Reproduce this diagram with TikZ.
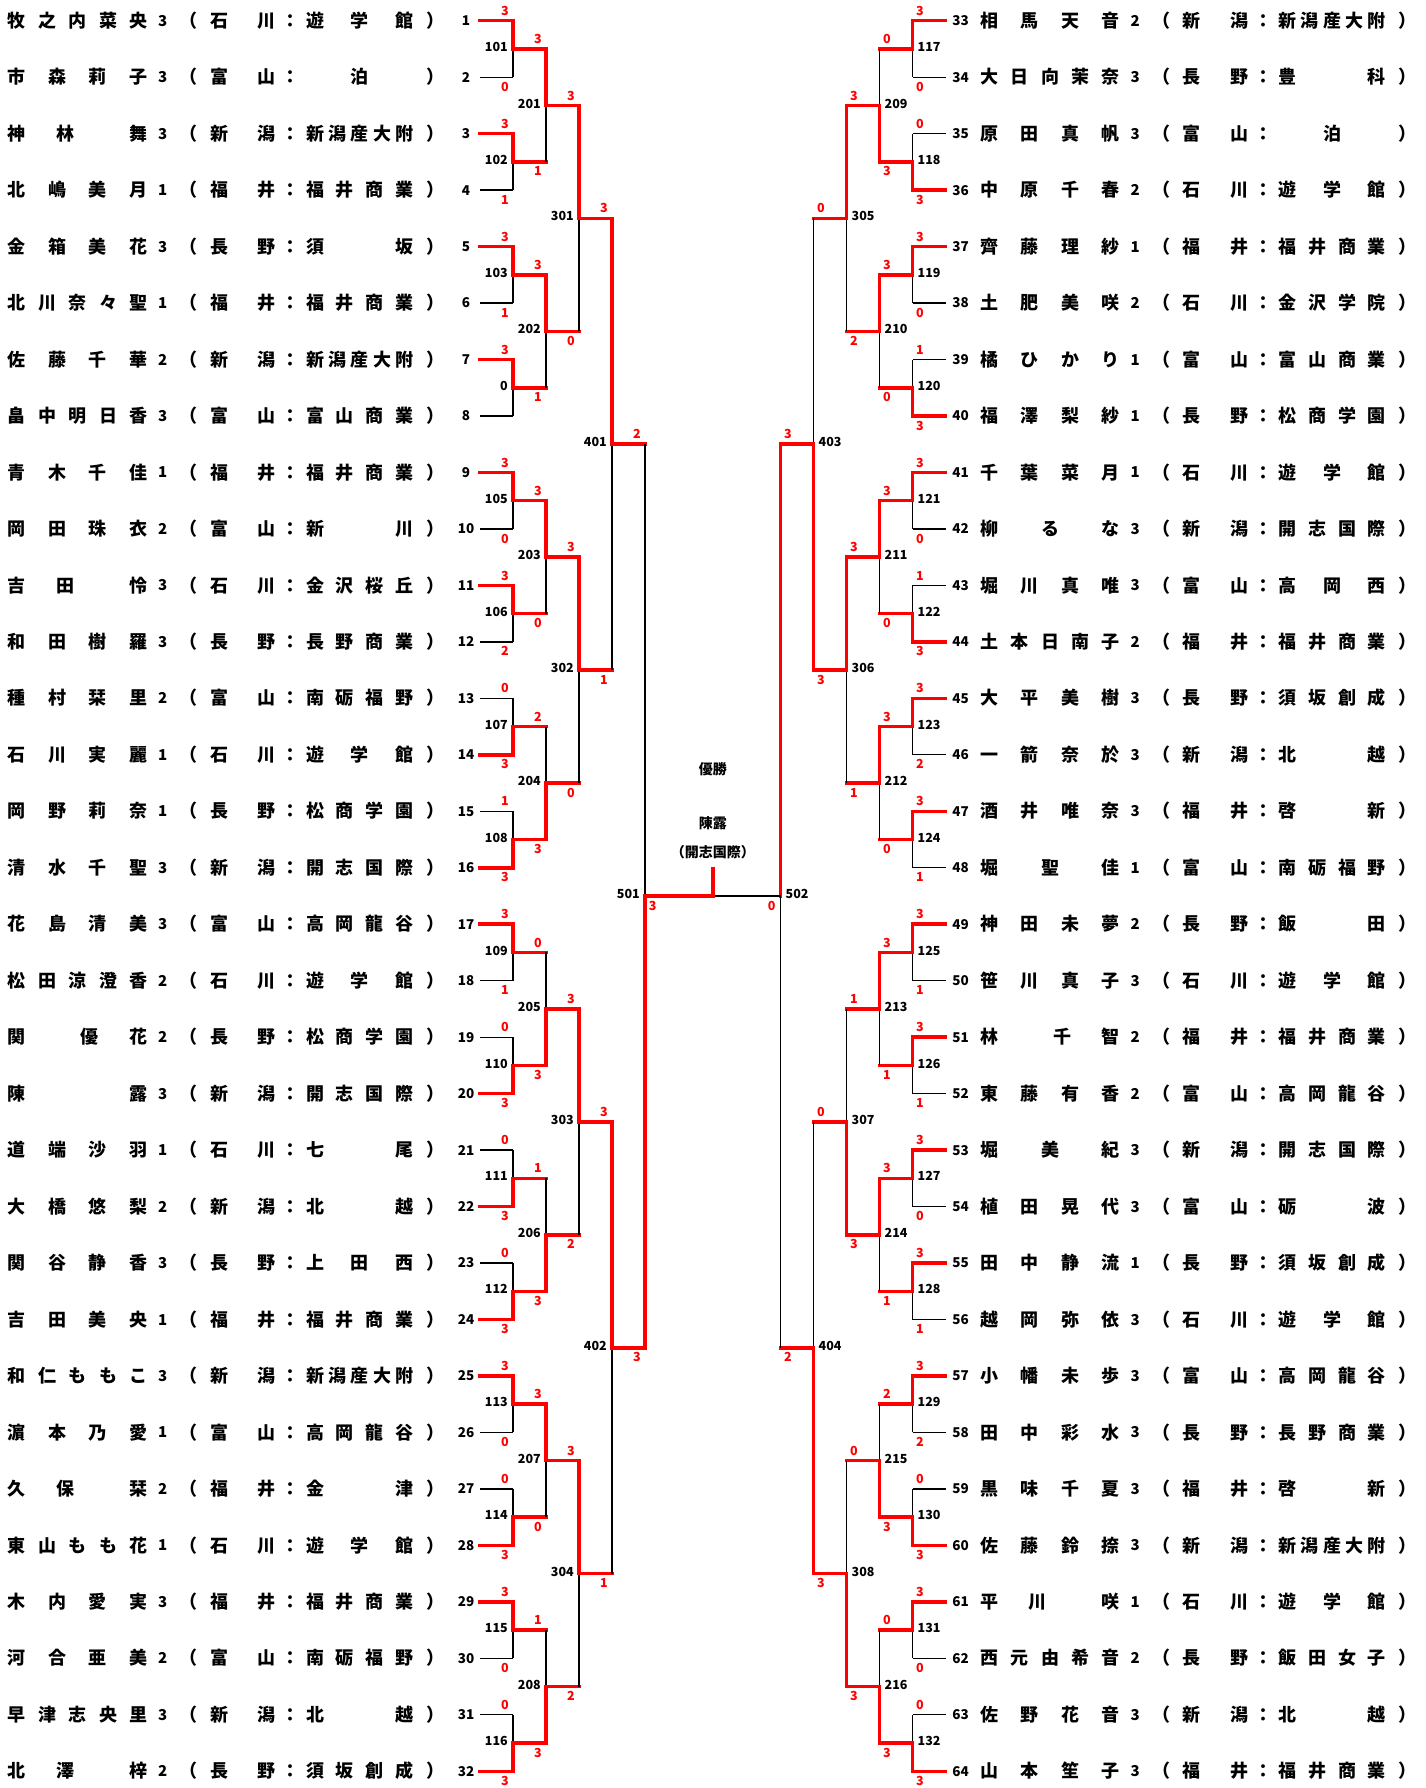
\documentclass[tikz,border=0pt]{standalone}
\usepackage{fontspec}
\setmainfont{Noto Sans CJK JP}
\usetikzlibrary{calc}
\tikzset{
winline/.style={
	draw=red,
	line width=3.5pt,
	line cap=rect
},
loseline/.style={
	draw=black,
	line width=1.3pt
},
namebox/.style={
	font=\fontsize{18}{18}\selectfont\bfseries,
	inner sep=0pt,
	anchor=base west,
	yshift=-6.6pt
},
affbox/.style={namebox},
gradebox/.style={
	font=\fontsize{15}{15}\selectfont\bfseries,
	inner sep=0pt,
	anchor=base,
	yshift=-5.5pt
},
entryno/.style={
	font=\fontsize{13.5}{13.5}\selectfont\bfseries,
	inner sep=0pt,
	anchor=base,
	yshift=-4.9pt
},
matchno/.style={
	font=\fontsize{12.5}{12.5}\selectfont\bfseries,
	inner sep=0pt,
	yshift=-2.6pt
},
score/.style={
	font=\fontsize{12.5}{12.5}\selectfont\bfseries,
	text=red,
	inner sep=0pt,
	anchor=base,
	yshift=-4.6pt
},
titlebox/.style={
	font=\fontsize{14}{14}\selectfont\bfseries,
	inner sep=0pt
},
scoreL/.style={score, xshift=-8pt},
scoreR/.style={score, xshift=7.5pt},
scoreL1/.style={scoreL},
scoreR1/.style={scoreR},
tagL/.style={matchno, anchor=base east, xshift=-5pt},
tagR/.style={matchno, anchor=base west, xshift=5pt},
tagL1/.style={tagL},
tagR1/.style={tagR},
feedL/.style={winline},
feedR/.style={winline},
feedL1/.style={loseline},
feedR1/.style={loseline}
}

\makeatletter
\def\sp@gap{*}
\newcommand\spreadtext[2]{%
	\makebox[#1][s]{\@tempswafalse\@tfor\sp@c:=#2\do{%
		\if@tempswa\hfill\fi\@tempswatrue
		\ifx\sp@c\sp@gap\hbox to 1em{}\else\sp@c\fi}}}
\makeatother

\newcommand\affil[2]{%
	\makebox[18pt][l]{（}\kern12.56pt
	\spreadtext{65.4pt}{#1}\kern6pt
	\makebox[18pt]{：}\kern6.3pt
	\spreadtext{107.3pt}{#2}\kern12.66pt
	\makebox[18pt][l]{）}}

\newcommand\lentry[5]{%
	\pgfmathsetmacro\ry{20.7+56.47*(#1-1)}
	\coordinate (p#1) at (480,\ry);
	\node[entryno] (n#1) at (466,\ry) {#1};
	\node[namebox] (a#1) at (7.7,\ry) {\spreadtext{139.6pt}{#2}};
	\node[gradebox] (g#1) at (162.7,\ry) {#3};
	\node[affbox] (f#1) at (179.74,\ry) {\affil{#4}{#5}};
}

\newcommand\rentry[5]{%
	\pgfmathsetmacro\ry{20.7+56.47*(#1-33)}
	\coordinate (p#1) at (945.5,\ry);
	\node[entryno] (n#1) at (960.7,\ry) {#1};
	\node[namebox] (a#1) at (980.1,\ry) {\spreadtext{139.6pt}{#2}};
	\node[gradebox] (g#1) at (1135.1,\ry) {#3};
	\node[affbox] (f#1) at (1152.14,\ry) {\affil{#4}{#5}};
}

\newcommand\bout[8][]{%
	\path let \p1=($(#4)!.5!(#5)$) in coordinate (m#3) at (#6pt,\y1);
	\ifnum#7>0#8\relax
		\draw[winline] (#4) -| (m#3);
		\draw[feed#2] (#5) -- (#5 -| m#3);
		\draw[loseline] (#5 -| m#3) -- (m#3);
	\else
		\draw[feed#2] (#4) -- (#4 -| m#3);
		\draw[loseline] (#4 -| m#3) -- (m#3);
		\draw[winline] (#5) -| (m#3);
	\fi
	\node[score#2, yshift=10pt] (s#3a) at (#4 -| m#3) {#7};
	\node[score#2, yshift=-9.5pt] (s#3b) at (#5 -| m#3) {#8};
	\node[tag#2] (t#3) at (m#3) {\ifx\relax#1\relax#3\else#1\fi};
}

\begin{document}
\begin{tikzpicture}[x=1pt, y=-1pt]

\path[use as bounding box, fill=white] (0,0) rectangle (1426,1788);

\lentry{1}{牧之内菜央}{3}{石川}{遊*学*館}
\lentry{2}{市森莉子}{3}{富山}{*泊*}
\lentry{3}{神*林**舞}{3}{新潟}{新潟産大附}
\lentry{4}{北嶋美月}{1}{福井}{福井商業}
\lentry{5}{金箱美花}{3}{長野}{須**坂}
\lentry{6}{北川奈々聖}{1}{福井}{福井商業}
\lentry{7}{佐藤千華}{2}{新潟}{新潟産大附}
\lentry{8}{畠中明日香}{3}{富山}{富山商業}
\lentry{9}{青木千佳}{1}{福井}{福井商業}
\lentry{10}{岡田珠衣}{2}{富山}{新**川}
\lentry{11}{吉*田**怜}{3}{石川}{金沢桜丘}
\lentry{12}{和田樹羅}{3}{長野}{長野商業}
\lentry{13}{種村栞里}{2}{富山}{南砺福野}
\lentry{14}{石川実麗}{1}{石川}{遊*学*館}
\lentry{15}{岡野莉奈}{1}{長野}{松商学園}
\lentry{16}{清水千聖}{3}{新潟}{開志国際}
\lentry{17}{花島清美}{3}{富山}{高岡龍谷}
\lentry{18}{松田涼澄香}{2}{石川}{遊*学*館}
\lentry{19}{関**優*花}{2}{長野}{松商学園}
\lentry{20}{陳露}{3}{新潟}{開志国際}
\lentry{21}{道端沙羽}{1}{石川}{七**尾}
\lentry{22}{大橋悠梨}{2}{新潟}{北**越}
\lentry{23}{関谷静香}{3}{長野}{上*田*西}
\lentry{24}{吉田美央}{1}{福井}{福井商業}
\lentry{25}{和仁ももこ}{3}{新潟}{新潟産大附}
\lentry{26}{濵本乃愛}{1}{富山}{高岡龍谷}
\lentry{27}{久*保**栞}{2}{福井}{金**津}
\lentry{28}{東山もも花}{1}{石川}{遊*学*館}
\lentry{29}{木内愛実}{3}{福井}{福井商業}
\lentry{30}{河合亜美}{2}{富山}{南砺福野}
\lentry{31}{早津志央里}{3}{新潟}{北**越}
\lentry{32}{北*澤**梓}{2}{長野}{須坂創成}

\rentry{33}{相馬天音}{2}{新潟}{新潟産大附}
\rentry{34}{大日向茉奈}{3}{長野}{豊**科}
\rentry{35}{原田真帆}{3}{富山}{*泊*}
\rentry{36}{中原千春}{2}{石川}{遊*学*館}
\rentry{37}{齊藤理紗}{1}{福井}{福井商業}
\rentry{38}{土肥美咲}{2}{石川}{金沢学院}
\rentry{39}{橘ひかり}{1}{富山}{富山商業}
\rentry{40}{福澤梨紗}{1}{長野}{松商学園}
\rentry{41}{千葉菜月}{1}{石川}{遊*学*館}
\rentry{42}{柳*る*な}{3}{新潟}{開志国際}
\rentry{43}{堀川真唯}{3}{富山}{高*岡*西}
\rentry{44}{土本日南子}{2}{福井}{福井商業}
\rentry{45}{大平美樹}{3}{長野}{須坂創成}
\rentry{46}{一箭奈於}{3}{新潟}{北**越}
\rentry{47}{酒井唯奈}{3}{福井}{啓**新}
\rentry{48}{堀*聖*佳}{1}{富山}{南砺福野}
\rentry{49}{神田未夢}{2}{長野}{飯**田}
\rentry{50}{笹川真子}{3}{石川}{遊*学*館}
\rentry{51}{林**千*智}{2}{福井}{福井商業}
\rentry{52}{東藤有香}{2}{富山}{高岡龍谷}
\rentry{53}{堀*美*紀}{3}{新潟}{開志国際}
\rentry{54}{植田晃代}{3}{富山}{砺**波}
\rentry{55}{田中静流}{1}{長野}{須坂創成}
\rentry{56}{越岡弥依}{3}{石川}{遊*学*館}
\rentry{57}{小幡未歩}{3}{富山}{高岡龍谷}
\rentry{58}{田中彩水}{3}{長野}{長野商業}
\rentry{59}{黒味千夏}{3}{福井}{啓**新}
\rentry{60}{佐藤鈴捺}{3}{新潟}{新潟産大附}
\rentry{61}{平*川**咲}{1}{石川}{遊*学*館}
\rentry{62}{西元由希音}{2}{長野}{飯田女子}
\rentry{63}{佐野花音}{3}{新潟}{北**越}
\rentry{64}{山本笙子}{3}{福井}{福井商業}

\bout{L1}{101}{p1}{p2}{513}{3}{0}
\bout{L1}{102}{p3}{p4}{513}{3}{1}
\bout{L1}{103}{p5}{p6}{513}{3}{1}
\bout[0]{L1}{104}{p7}{p8}{513}{3}{}
\bout{L1}{105}{p9}{p10}{513}{3}{0}
\bout{L1}{106}{p11}{p12}{513}{3}{2}
\bout{L1}{107}{p13}{p14}{513}{0}{3}
\bout{L1}{108}{p15}{p16}{513}{1}{3}
\bout{L1}{109}{p17}{p18}{513}{3}{1}
\bout{L1}{110}{p19}{p20}{513}{0}{3}
\bout{L1}{111}{p21}{p22}{513}{0}{3}
\bout{L1}{112}{p23}{p24}{513}{0}{3}
\bout{L1}{113}{p25}{p26}{513}{3}{0}
\bout{L1}{114}{p27}{p28}{513}{0}{3}
\bout{L1}{115}{p29}{p30}{513}{3}{0}
\bout{L1}{116}{p31}{p32}{513}{0}{3}

\bout{L}{201}{m101}{m102}{546}{3}{1}
\bout{L}{202}{m103}{m104}{546}{3}{1}
\bout{L}{203}{m105}{m106}{546}{3}{0}
\bout{L}{204}{m107}{m108}{546}{2}{3}
\bout{L}{205}{m109}{m110}{546}{0}{3}
\bout{L}{206}{m111}{m112}{546}{1}{3}
\bout{L}{207}{m113}{m114}{546}{3}{0}
\bout{L}{208}{m115}{m116}{546}{1}{3}

\bout{L}{301}{m201}{m202}{579}{3}{0}
\bout{L}{302}{m203}{m204}{579}{3}{0}
\bout{L}{303}{m205}{m206}{579}{3}{2}
\bout{L}{304}{m207}{m208}{579}{3}{2}

\bout{L}{401}{m301}{m302}{612}{3}{1}
\bout{L}{402}{m303}{m304}{612}{3}{1}

\bout{L}{501}{m401}{m402}{645}{2}{3}

\bout{R1}{117}{p33}{p34}{912.5}{3}{0}
\bout{R1}{118}{p35}{p36}{912.5}{0}{3}
\bout{R1}{119}{p37}{p38}{912.5}{3}{0}
\bout{R1}{120}{p39}{p40}{912.5}{1}{3}
\bout{R1}{121}{p41}{p42}{912.5}{3}{0}
\bout{R1}{122}{p43}{p44}{912.5}{1}{3}
\bout{R1}{123}{p45}{p46}{912.5}{3}{2}
\bout{R1}{124}{p47}{p48}{912.5}{3}{1}
\bout{R1}{125}{p49}{p50}{912.5}{3}{1}
\bout{R1}{126}{p51}{p52}{912.5}{3}{1}
\bout{R1}{127}{p53}{p54}{912.5}{3}{0}
\bout{R1}{128}{p55}{p56}{912.5}{3}{1}
\bout{R1}{129}{p57}{p58}{912.5}{3}{2}
\bout{R1}{130}{p59}{p60}{912.5}{0}{3}
\bout{R1}{131}{p61}{p62}{912.5}{3}{0}
\bout{R1}{132}{p63}{p64}{912.5}{0}{3}

\bout{R}{209}{m117}{m118}{879.5}{0}{3}
\bout{R}{210}{m119}{m120}{879.5}{3}{0}
\bout{R}{211}{m121}{m122}{879.5}{3}{0}
\bout{R}{212}{m123}{m124}{879.5}{3}{0}
\bout{R}{213}{m125}{m126}{879.5}{3}{1}
\bout{R}{214}{m127}{m128}{879.5}{3}{1}
\bout{R}{215}{m129}{m130}{879.5}{2}{3}
\bout{R}{216}{m131}{m132}{879.5}{0}{3}

\bout{R}{305}{m209}{m210}{846.5}{3}{2}
\bout{R}{306}{m211}{m212}{846.5}{3}{1}
\bout{R}{307}{m213}{m214}{846.5}{1}{3}
\bout{R}{308}{m215}{m216}{846.5}{0}{3}

\bout{R}{403}{m305}{m306}{813.5}{0}{3}
\bout{R}{404}{m307}{m308}{813.5}{0}{3}

\bout{R}{502}{m403}{m404}{780.5}{3}{2}

% final
\coordinate (fin) at ($(m501)!.5!(m502)$);
\coordinate (crown) at ($(fin)+(0,-27.5)$);
\draw[loseline] (m502) -- (fin);
\draw[winline] (m501) -- (fin);
\draw[winline] (fin) -- (crown);
\node[score, xshift=7.7pt, yshift=-9.5pt] (f501) at (m501) {3};
\node[score, xshift=-8.8pt, yshift=-9.5pt] (f502) at (m502) {0};

\node[titlebox] (title) at (712.75,769) {優勝};
\node[titlebox] (champ) at (712.75,823) {陳露};
\node[titlebox] (club) at (712.75,852) {（開志国際）};

\end{tikzpicture}
\end{document}
